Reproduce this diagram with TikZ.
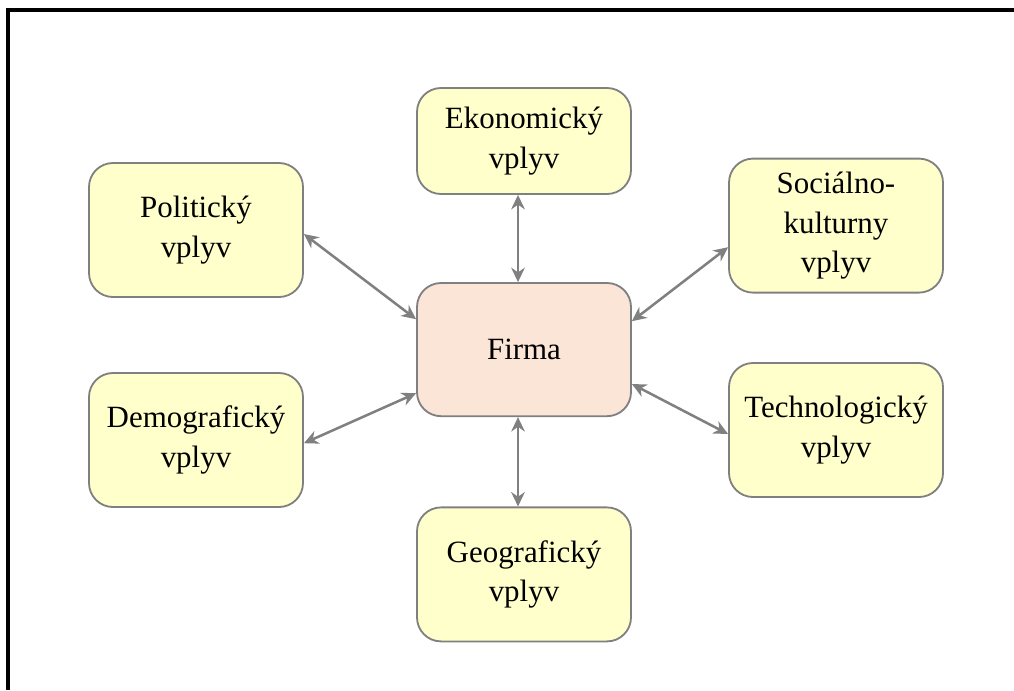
\documentclass[tikz,border=0pt]{standalone}
\usepackage{fontspec}
\setmainfont{Liberation Serif}
\usetikzlibrary{arrows.meta}
\definecolor{boxyellow}{HTML}{FFFFCC}
\definecolor{boxpeach}{HTML}{FBE5D6}
\definecolor{linegray}{HTML}{808080}

\begin{document}
\begin{tikzpicture}[
                        > = {Stealth[length=3.6mm,width=3.4mm]},
             vplyv/.style = {rectangle,
                            draw=linegray,
                            line width=1.3pt,
                            rounded corners=0.6cm,
                            fill=boxyellow,
                            minimum width=5.35cm,
                            minimum height=3.35cm,
                            align=center,
                            font=\fontsize{22}{28}\selectfont},
             firma/.style = {vplyv, fill=boxpeach, minimum height=3.33cm},
              link/.style = {<->, draw=linegray, line width=1.8pt},
            ]
            \useasboundingbox (0,0) rectangle (25.35,-17.25);
            \draw[line width=2.2pt] (0.2,-17.25) |- (25.35,-0.25);

            \node[firma] (firma) at (13.1,-8.74)  {Firma};
            \node[vplyv, minimum height=2.65cm] (ekon) at (13.1,-3.525) {Ekonomický\\vplyv};
            \node[vplyv] (pol)  at (4.9,-5.75)    {Politický\\vplyv};
            \node[vplyv] (soc)  at (20.9,-5.64)   {Sociálno-\\kulturny\\vplyv};
            \node[vplyv] (dem)  at (4.9,-11.0)    {Demografický\\vplyv};
            \node[vplyv] (tech) at (20.9,-10.75)  {Technologický\\vplyv};
            \node[vplyv] (geo)  at (13.1,-14.36)  {Geografický\\vplyv};

            \draw[link] ([xshift=-0.15cm]ekon.south) -- ([xshift=-0.15cm]firma.north);
            \draw[link] ([xshift=-0.15cm]geo.north)  -- ([xshift=-0.15cm]firma.south);
            \draw[link] ([yshift=-0.1cm]pol.east)    -- ([yshift=0.76cm]firma.west);
            \draw[link] ([yshift=-0.54cm]soc.west)   -- ([yshift=0.71cm]firma.east);
            \draw[link] ([yshift=-0.08cm]dem.east)   -- ([yshift=-1.09cm]firma.west);
            \draw[link] ([yshift=-0.1cm]tech.west)   -- ([yshift=-0.86cm]firma.east);
        \end{tikzpicture}
\end{document}
